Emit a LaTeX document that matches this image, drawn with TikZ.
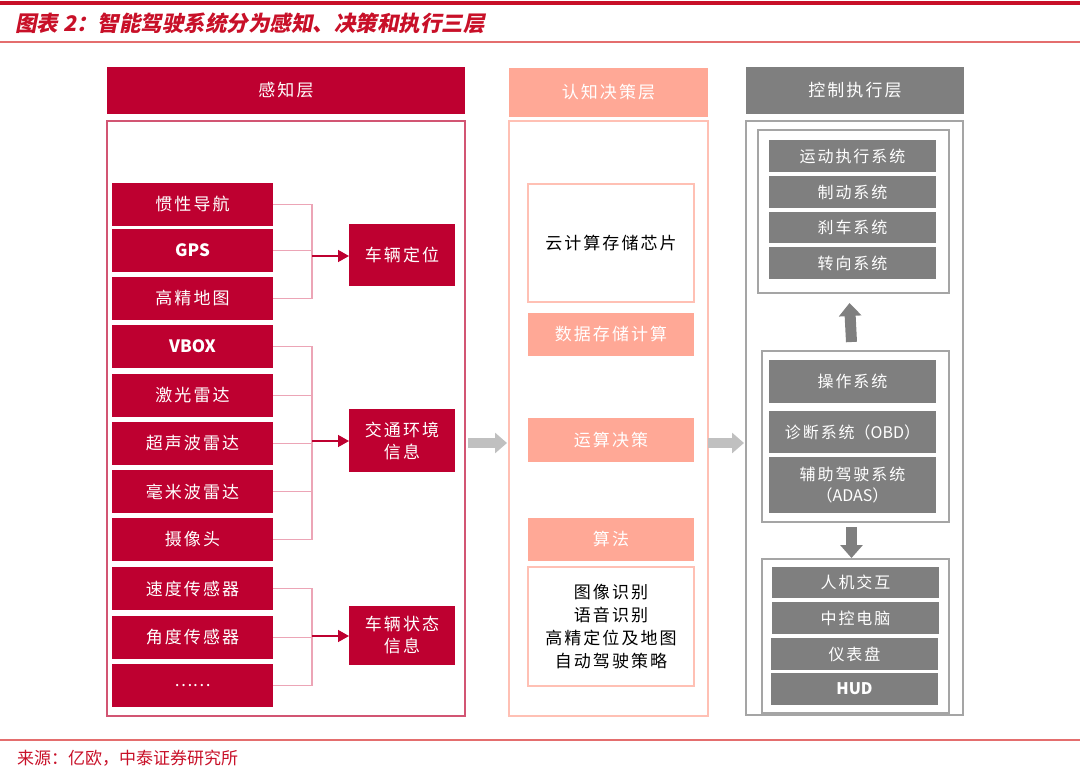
\documentclass[tikz,border=0pt]{standalone}
\usepackage{fontspec}
\setmainfont{Noto Sans CJK SC}
\newfontfamily\titlefont[FakeSlant=0.2]{Noto Sans CJK SC}
\newfontfamily\spaced[LetterSpace=12]{Noto Sans CJK SC}
\newcommand\latn[1]{{\rmfamily #1}}
\usetikzlibrary{arrows.meta,calc}
\definecolor{dred}{RGB}{190,0,48}
\definecolor{fred}{RGB}{210,85,115}
\definecolor{cred}{RGB}{236,165,182}
\definecolor{salmon}{RGB}{255,168,150}
\definecolor{lsalmon}{RGB}{255,192,180}
\definecolor{dgray}{RGB}{127,127,127}
\definecolor{lgray}{RGB}{165,165,165}
\definecolor{agray}{RGB}{192,192,192}
\definecolor{tred}{RGB}{200,16,40}
\definecolor{lred}{RGB}{228,110,110}
\begin{document}
\begin{tikzpicture}[x=1pt,y=-1pt,
  box/.style={anchor=north west, inner sep=0pt, outer sep=0pt, align=center,
    font=\spaced\fontsize{17}{22}\selectfont},
  sz/.style 2 args={minimum width=#1, minimum height=#2},
  redbox/.style={box, fill=dred, text=white},
  salbox/.style={box, fill=salmon, text=white},
  salframe/.style={box, draw=lsalmon, line width=1.5pt, text=black},
  graybox/.style={box, fill=dgray, text=white, font=\spaced\fontsize{16}{21}\selectfont},
  grayframe/.style={box, draw=lgray, line width=1.5pt},
  conn/.style={draw=cred, line width=1.2pt},
  arr/.style={draw=dred, line width=1.5pt, -{Triangle[length=11pt,width=12pt]}},
  garrow/.style={draw=agray, line width=10pt, -{Triangle[length=12pt,width=20pt]}},
  darrow/.style={draw=dgray, line width=11pt, -{Triangle[length=13pt,width=22pt]}}
]
\useasboundingbox (0,0) rectangle (1080,771);
% title area
\coordinate (tl1) at (0,3); \coordinate (tr1) at (1080,3);
\draw[tred, line width=4pt] (tl1) -- (tr1);
\node[anchor=west, inner sep=0pt, text=tred, font=\titlefont\bfseries\fontsize{21.5}{24}\selectfont] (title) at (15,23) {图表 2：智能驾驶系统分为感知、决策和执行三层};
\coordinate (tl2) at (0,42); \coordinate (tr2) at (1080,42);
\draw[lred, line width=1.5pt] (tl2) -- (tr2);
\coordinate (bl) at (0,740); \coordinate (br) at (1080,740);
\draw[lred, line width=1.5pt] (bl) -- (br);
\node[anchor=west, inner sep=0pt, text=tred, font=\fontsize{17}{18}\selectfont] (src) at (17,758) {来源：亿欧，中泰证券研究所};

% ---------- perception layer ----------
\node[redbox, sz={358}{47}] (h1) at (107,67) {感知层};
\node[box, draw=fred, line width=2pt, sz={358}{595}] (f1) at (107,121) {};
\foreach \n/\y/\t in {p1/183/惯性导航, p2/229/\latn{\bfseries GPS}, p3/277/高精地图, p4/325/\latn{\bfseries VBOX},
  p5/374/激光雷达, p6/422/超声波雷达, p7/470/毫米波雷达, p8/518/摄像头,
  p9/567/速度传感器, p10/616/角度传感器, p11/664/\latn{……}}
  {\node[redbox, sz={161}{43}] (\n) at (112,\y) {\t};}
\node[redbox, sz={106}{62}] (loc) at (349,224) {车辆定位};
\node[redbox, sz={106}{63}] (env) at (349,409) {交通环境\\信息};
\node[redbox, sz={106}{59}] (sta) at (349,606) {车辆状态\\信息};
\coordinate (j1) at (312,256);
\coordinate (j2) at (312,441);
\coordinate (j3) at (312,636);
\foreach \n in {p1,p2,p3} {\draw[conn] (\n.east) -| (j1);}
\foreach \n in {p4,p5,p6,p7,p8} {\draw[conn] (\n.east) -| (j2);}
\foreach \n in {p9,p10,p11} {\draw[conn] (\n.east) -| (j3);}
\draw[arr] (j1) -- (j1 -| loc.west);
\draw[arr] (j2) -- (j2 -| env.west);
\draw[arr] (j3) -- (j3 -| sta.west);

% ---------- cognition / decision layer ----------
\node[salbox, sz={199}{49}] (h2) at (509,68) {认知决策层};
\node[box, draw=lsalmon, line width=1.5pt, sz={199}{595}] (f2) at (509,121) {};
\node[salframe, sz={166}{118}] (m1) at (528,184) {云计算存储芯片};
\node[salbox, sz={166}{43}] (m2) at (528,313) {数据存储计算};
\node[salbox, sz={166}{44}] (m3) at (528,418) {运算决策};
\node[salbox, sz={166}{43}] (m4) at (528,518) {算法};
\node[salframe, sz={166}{119}, font=\spaced\fontsize{17}{23}\selectfont] (m5) at (528,567) {图像识别\\语音识别\\高精定位及地图\\自动驾驶策略};

% ---------- control / execution layer ----------
\node[box, fill=dgray, text=white, sz={218}{47}] (h3) at (746,67) {控制执行层};
\node[grayframe, sz={217}{594}] (f3) at (746,121) {};
\node[grayframe, sz={191}{163}] (r1) at (758,130) {};
\node[graybox, sz={167}{32}] (a1) at (769,140) {运动执行系统};
\node[graybox, sz={167}{32}] (a2) at (769,176) {制动系统};
\node[graybox, sz={167}{31}] (a3) at (769,212) {刹车系统};
\node[graybox, sz={167}{32}] (a4) at (769,247) {转向系统};
\node[grayframe, sz={187}{171}] (r2) at (762,351) {};
\node[graybox, sz={167}{43}] (b1) at (769,360) {操作系统};
\node[graybox, sz={167}{42}] (b2) at (769,411) {诊断系统\latn{（OBD）}};
\node[graybox, sz={167}{56}] (b3) at (769,457) {辅助驾驶系统\\\latn{（ADAS）}};
\node[grayframe, sz={187}{154}] (r3) at (762,559) {};
\node[graybox, sz={167}{31}] (c1) at (772,567) {人机交互};
\node[graybox, sz={167}{32}] (c2) at (772,602) {中控电脑};
\node[graybox, sz={167}{32}] (c3) at (771,638) {仪表盘};
\node[graybox, sz={167}{32}] (c4) at (771,673) {\latn{\bfseries HUD}};

% ---------- arrows between layers ----------
\coordinate (ga) at (0,443);
\draw[garrow] ([xshift=3pt]f1.east |- ga) -- ([xshift=-2pt]f2.west |- ga);
\draw[garrow] (f2.east |- ga) -- ([xshift=-2pt]f3.west |- ga);
\draw[darrow] ([xshift=-4pt,yshift=9pt]r2.north) -- ([xshift=-4pt,yshift=-10pt]r1.south);
\draw[darrow] ([xshift=-4pt,yshift=-5pt]r2.south) -- ([xshift=-4pt,yshift=1pt]r3.north);
\end{tikzpicture}
\end{document}
